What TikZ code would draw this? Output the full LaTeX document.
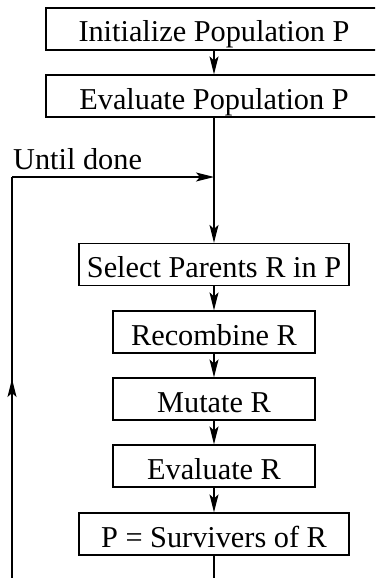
\documentclass[tikz,border=0pt]{standalone}
\usepackage{fontspec}
\setmainfont{Liberation Serif}
\usetikzlibrary{arrows.meta}
\begin{document}
\begin{tikzpicture}[x=1pt,y=1pt,
  box/.style={draw, line width=1.2pt, inner xsep=0pt, inner ysep=0pt,
    text height=34pt, text depth=8pt, minimum height=42pt,
    font=\fontsize{30.3}{36}\selectfont},
  conn/.style={line width=1.2pt},
  arr/.style={conn, -{Stealth[length=18pt,width=9pt,inset=4pt]}}]
\useasboundingbox (0,0) rectangle (375,-578);
\clip (0,0) rectangle (375,-578);
\node[box, minimum width=336pt] (init) at (214,-29) {Initialize Population P};
\node[box, minimum width=336pt] (evp) at (214,-96) {Evaluate Population P};
\node[box, minimum width=270pt] (sel) at (214,-264.5) {Select Parents R in P};
\node[box, minimum width=202pt] (rec) at (214,-332) {Recombine R};
\node[box, minimum width=202pt] (mut) at (214,-399) {Mutate R};
\node[box, minimum width=202pt] (evr) at (214,-466) {Evaluate R};
\node[box, minimum width=270pt] (surv) at (214,-534) {P = Survivers of R};
\node[anchor=base west, inner sep=0pt, font=\fontsize{30.3}{36}\selectfont] (until) at (13,-169) {Until done};
\coordinate (join) at (214,-177);
\coordinate (lefttop) at (12,-177);
\coordinate (upfrom) at (12,-400);
\coordinate (upto) at (12,-379);
\coordinate (bot) at (214,-620);
\coordinate (leftbot) at (12,-620);
\draw[arr] (init) -- (evp);
\draw[arr] (evp) -- (sel);
\draw[arr] (sel) -- (rec);
\draw[arr] (rec) -- (mut);
\draw[arr] (mut) -- (evr);
\draw[arr] (evr) -- (surv);
\draw[conn] (surv) -- (bot) -- (leftbot) -- (lefttop);
\draw[arr] (lefttop) -- (join);
\draw[arr] (upfrom) -- (upto);
\end{tikzpicture}
\end{document}
